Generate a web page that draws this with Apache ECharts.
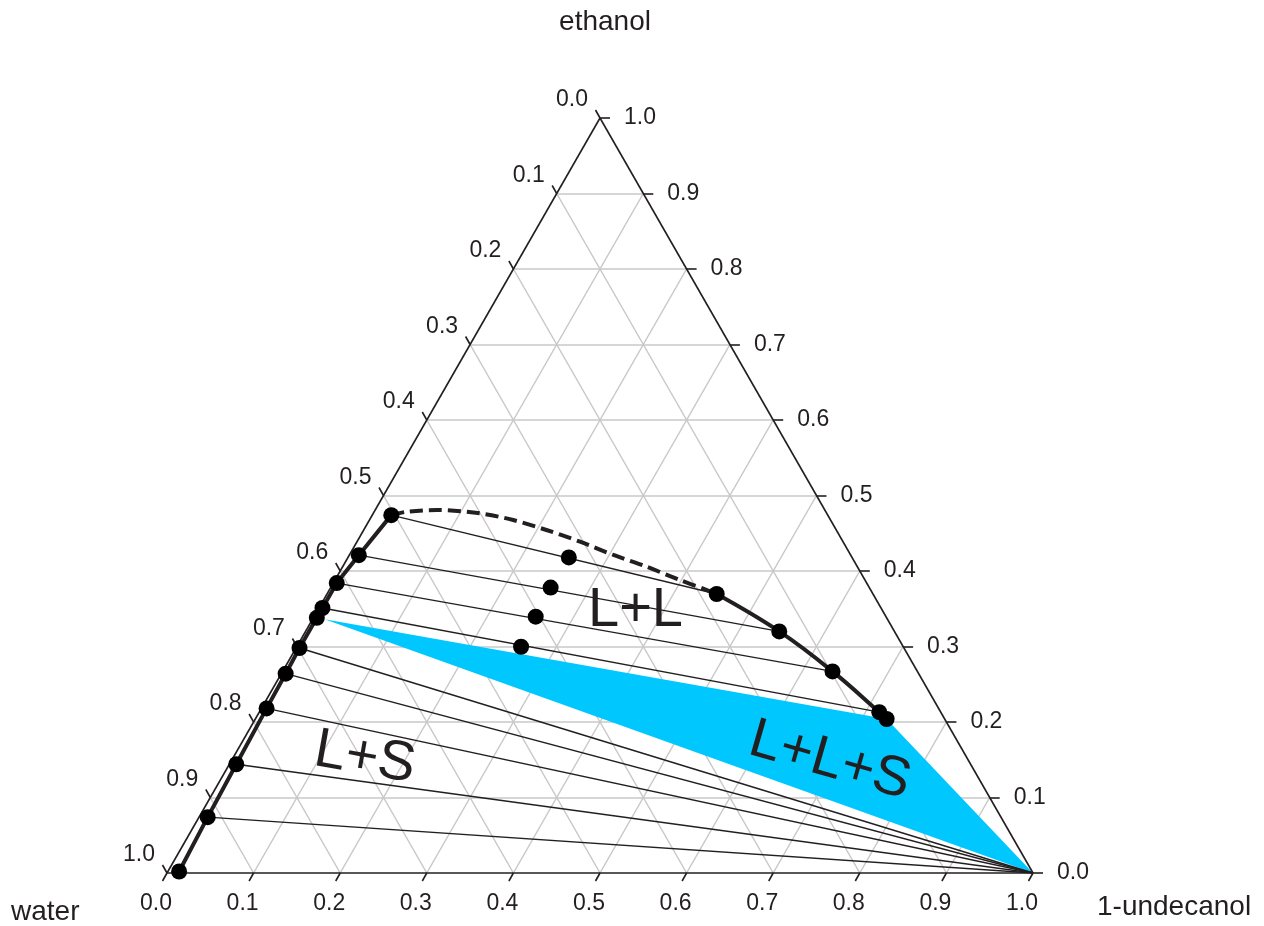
<!DOCTYPE html>
<html>
<head>
<meta charset="utf-8">
<title>water / ethanol / 1-undecanol</title>
<script src="https://cdn.jsdelivr.net/npm/echarts@6/dist/echarts.min.js"></script>
<style>
  html, body { margin: 0; padding: 0; background: #fff; }
  #main { width: 1264px; height: 926px; }
</style>
</head>
<body>
<div id="main"></div>
<script>
// compositions are [1-undecanol, ethanol] fractions, water = 1 - both
var ticks = [0, 0.1, 0.2, 0.3, 0.4, 0.5, 0.6, 0.7, 0.8, 0.9, 1.0];
var tickLabels = ['0.0', '0.1', '0.2', '0.3', '0.4', '0.5', '0.6', '0.7', '0.8', '0.9', '1.0'];

// water rich phase (left branch)
var waterRich = [
  [0.022, 0.474], [0.011, 0.421], [0.004, 0.384], [0.004, 0.351], [0.004, 0.338],
  [0.004, 0.298], [0.005, 0.264], [0.006, 0.218], [0.008, 0.144], [0.010, 0.074],
  [0.013, 0.002]
];
// 1-undecanol rich phase (right branch)
var organicRich = [
  [0.450, 0.3695], [0.547, 0.320], [0.635, 0.267], [0.716, 0.213], [0.729, 0.204]
];
// overall mixtures
var feedPoints = [
  [0.255, 0.418], [0.254, 0.378], [0.256, 0.3395], [0.259, 0.2997]
];
// estimated binodal (dashed)
var binodalGuess = [
  [0.022, 0.474], [0.0375, 0.4785], [0.071, 0.4808], [0.123, 0.4764], [0.166, 0.4675],
  [0.211, 0.4543], [0.2575, 0.4388], [0.305, 0.4212], [0.351, 0.4057], [0.398, 0.3881],
  [0.436, 0.3748], [0.450, 0.3695]
];
// L+L tie lines: [waterRich index, organicRich index]
var tieLL = [[0, 0], [1, 1], [2, 2], [3, 3]];
// L+S tie lines: waterRich index -> pure solid 1-undecanol
var tieLS = [5, 6, 7, 8, 9];
var solidCorner = [1, 0];
// three phase triangle
var threePhase = [[0.014, 0.336], [0.729, 0.204], [1, 0]];

var regionNames = ['L+L', 'L+S', 'L+L+S'];
var regionSpots = [[0.367, 0.348], [0.1525, 0.152], [0.6915, 0.148]];

var GW = 866, GH = 755;
var INK = '#231f20';
var FONT = '"Liberation Sans", Arial, sans-serif';

function tern(p) {
  return [p[0] + p[1] / 2, p[1]];
}
function px(pt, dx, dy) {
  return [pt[0] + dx / GW, pt[1] - dy / GH];
}

// grid lines
var gridLines = [];
for (var k = 1; k < 10; k++) {
  var f = ticks[k];
  gridLines.push({ coords: [tern([0, f]), tern([1 - f, f])] });
  gridLines.push({ coords: [tern([f, 0]), tern([f, 1 - f])] });
  gridLines.push({ coords: [tern([1 - f, 0]), tern([0, 1 - f])] });
}
var edges = [
  { coords: [tern([0, 0]), tern([1, 0])] },
  { coords: [tern([1, 0]), tern([0, 1])] },
  { coords: [tern([0, 1]), tern([0, 0])] }
];

var tickMarks = [];
ticks.forEach(function (t) {
  var b = tern([t, 0]);
  tickMarks.push({ coords: [b, px(b, -4.5, 8)] });
  var r = tern([1 - t, t]);
  tickMarks.push({ coords: [r, px(r, 10, 0)] });
  var l = tern([0, 1 - t]);
  tickMarks.push({ coords: [l, px(l, -4.5, -8)] });
});

var tieLines = [];
tieLL.forEach(function (p) {
  tieLines.push({ coords: [tern(waterRich[p[0]]), tern(organicRich[p[1]])] });
});
tieLS.forEach(function (i) {
  tieLines.push({ coords: [tern(waterRich[i]), tern(solidCorner)] });
});

var dots = waterRich.concat(organicRich, feedPoints).map(tern);

function tickLabelSeries(points, lab) {
  return {
    type: 'scatter',
    symbolSize: 1,
    itemStyle: { color: 'rgba(0,0,0,0)', opacity: 1 },
    clip: false,
    silent: true,
    z: 5,
    data: points,
    label: Object.assign({
      show: true,
      position: 'inside',
      fontSize: 23,
      fontFamily: FONT,
      color: INK,
      formatter: function (p) { return tickLabels[p.dataIndex]; }
    }, lab)
  };
}

var chart = echarts.init(document.getElementById('main'));
var option = {
  animation: false,
  grid: { left: 167, top: 118, width: GW, height: GH },
  xAxis: { type: 'value', min: 0, max: 1, show: false },
  yAxis: { type: 'value', min: 0, max: 1, show: false },
  graphic: [
    { type: 'text', x: 605, y: 22, style: { text: 'ethanol', font: '28px ' + FONT, fill: INK, align: 'center', verticalAlign: 'middle' } },
    { type: 'text', x: 11, y: 912, style: { text: 'water', font: '28px ' + FONT, fill: INK, align: 'left', verticalAlign: 'middle' } },
    { type: 'text', x: 1097, y: 907, style: { text: '1-undecanol', font: '28px ' + FONT, fill: INK, align: 'left', verticalAlign: 'middle' } }
  ],
  series: [
    {
      type: 'lines', coordinateSystem: 'cartesian2d', z: 1, silent: true,
      lineStyle: { color: '#c8c8c8', width: 1.5, opacity: 1 },
      data: gridLines
    },
    {
      type: 'custom', coordinateSystem: 'cartesian2d', z: 2, silent: true,
      data: [[0, 0]],
      renderItem: function (params, api) {
        var pts = threePhase.map(function (p) { return api.coord(tern(p)); });
        return { type: 'polygon', shape: { points: pts }, style: { fill: '#00c8ff' } };
      }
    },
    {
      type: 'lines', coordinateSystem: 'cartesian2d', z: 3, silent: true, clip: false,
      lineStyle: { color: INK, width: 1.6, opacity: 1 },
      data: edges.concat(tickMarks)
    },
    {
      type: 'lines', coordinateSystem: 'cartesian2d', z: 3, silent: true,
      lineStyle: { color: INK, width: 1.4, opacity: 1 },
      data: tieLines
    },
    {
      type: 'line', z: 4, showSymbol: false, smooth: 0.3, silent: true,
      lineStyle: { color: INK, width: 4, type: [13, 6] },
      data: binodalGuess.map(tern)
    },
    {
      type: 'line', z: 4, showSymbol: false, smooth: 0.4, silent: true,
      lineStyle: { color: INK, width: 4 },
      data: organicRich.map(tern)
    },
    {
      type: 'line', z: 4, showSymbol: false, silent: true,
      lineStyle: { color: INK, width: 4 },
      data: waterRich.map(tern)
    },
    {
      type: 'scatter', z: 6, symbolSize: 16, silent: true,
      itemStyle: { color: '#000', opacity: 1 },
      data: dots
    },
    tickLabelSeries(ticks.map(function (t) { return tern([t, 0]); }), { offset: [-11, 31] }),
    tickLabelSeries(ticks.map(function (t) { return tern([1 - t, t]); }), { align: 'left', offset: [24, 0] }),
    tickLabelSeries(ticks.map(function (t) { return tern([0, 1 - t]); }), { offset: [-28, -18] }),
    {
      type: 'scatter', z: 7, symbolSize: 1, silent: true,
      itemStyle: { color: 'rgba(0,0,0,0)', opacity: 1 },
      data: regionSpots.map(tern),
      label: {
        show: true, position: 'inside', fontSize: 56, fontFamily: FONT, color: INK,
        formatter: function (p) { return regionNames[p.dataIndex]; }
      },
      labelLayout: function (params) {
        return { rotate: [0, -10, -16][params.dataIndex] };
      }
    }
  ]
};
chart.setOption(option);
</script>
</body>
</html>
